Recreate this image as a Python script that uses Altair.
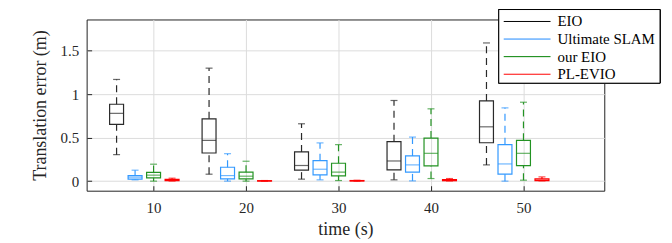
import altair as alt
import pandas as pd

times = [10, 20, 30, 40, 50]
series = ["EIO", "Ultimate SLAM", "our EIO", "PL-EVIO"]
colors = ["#2a2a2a", "#3399ff", "#239323", "#ff0000"]
legend_colors = ["#000000", "#1e88ff", "#008000", "#ff0000"]
offsets = [-4, -2, 0, 2]

low = {
    "EIO": [0.305, 0.08, 0.023, 0.015, 0.187],
    "Ultimate SLAM": [0.015, 0.0, 0.015, 0.003, 0.0],
    "our EIO": [0.0, 0.0, 0.007, 0.03, 0.011],
    "PL-EVIO": [0.001, 0.0, 0.0, 0.002, 0.003],
}
q1 = {
    "EIO": [0.653, 0.324, 0.126, 0.13, 0.442],
    "Ultimate SLAM": [0.023, 0.026, 0.072, 0.103, 0.08],
    "our EIO": [0.038, 0.026, 0.061, 0.175, 0.179],
    "PL-EVIO": [0.005, 0.001, 0.002, 0.005, 0.005],
}
median = {
    "EIO": [0.78, 0.47, 0.18, 0.232, 0.625],
    "Ultimate SLAM": [0.046, 0.064, 0.137, 0.187, 0.198],
    "our EIO": [0.069, 0.057, 0.103, 0.32, 0.32],
    "PL-EVIO": [0.012, 0.003, 0.004, 0.01, 0.013],
}
q3 = {
    "EIO": [0.885, 0.717, 0.336, 0.454, 0.923],
    "Ultimate SLAM": [0.064, 0.16, 0.236, 0.29, 0.42],
    "our EIO": [0.10, 0.103, 0.206, 0.496, 0.47],
    "PL-EVIO": [0.02, 0.005, 0.007, 0.018, 0.026],
}
high = {
    "EIO": [1.17, 1.30, 0.66, 0.928, 1.59],
    "Ultimate SLAM": [0.126, 0.316, 0.44, 0.507, 0.843],
    "our EIO": [0.195, 0.229, 0.42, 0.832, 0.908],
    "PL-EVIO": [0.034, 0.007, 0.01, 0.03, 0.049],
}

rows = []
for s, off in zip(series, offsets):
    for i, t in enumerate(times):
        rows.append({
            "series": s, "time": t, "pos": t + off,
            "low": low[s][i], "q1": q1[s][i], "median": median[s][i],
            "q3": q3[s][i], "high": high[s][i],
        })
df = pd.DataFrame(rows)
legend_df = pd.DataFrame({"series": series})

FONT = "Liberation Serif"

x = alt.X("pos:Q", scale=alt.Scale(domain=[3.3, 58.2], nice=False, zero=False),
          axis=alt.Axis(values=times, title="time (s)", grid=True, offset=-5,
                        tickSize=5, labelPadding=10, domain=False,
                        titlePadding=5))
yscale = alt.Scale(domain=[-0.11, 1.86], nice=False, zero=False)
yaxis = alt.Axis(values=[0, 0.5, 1, 1.5], title="Translation error (m)", grid=True,
                 offset=-5, tickSize=5, labelPadding=8, domain=False,
                 labelExpr="'' + datum.value", titlePadding=11)
cscale = alt.Scale(domain=series, range=colors)
color = alt.Color("series:N", scale=cscale, legend=None)

base = alt.Chart(df)

box = base.mark_bar(filled=False, size=14, strokeWidth=1.2).encode(
    x=x, y=alt.Y("q1:Q", scale=yscale, axis=yaxis), y2="q3:Q", color=color)
med = base.mark_tick(orient="horizontal", size=14, thickness=1.2).encode(
    x="pos:Q", y="median:Q", color=color)
w_up = base.mark_rule(strokeDash=[7, 5], strokeWidth=1.2).encode(
    x="pos:Q", y="q3:Q", y2="high:Q", color=color)
w_lo = base.mark_rule(strokeDash=[7, 5], strokeWidth=1.2).encode(
    x="pos:Q", y="low:Q", y2="q1:Q", color=color)
cap_hi = base.mark_tick(orient="horizontal", size=7, thickness=1.2).encode(
    x="pos:Q", y="high:Q", color=color)
cap_lo = base.mark_tick(orient="horizontal", size=7, thickness=1.2).encode(
    x="pos:Q", y="low:Q", color=color)

plot = alt.layer(w_up, w_lo, box, med, cap_hi, cap_lo)

# manual legend
ly = alt.Y("series:N", scale=alt.Scale(type="point", domain=series, range=[2, 55], padding=0),
           axis=None)
lcolor = alt.Color("series:N", scale=alt.Scale(domain=series, range=legend_colors), legend=None)
lbase = alt.Chart(legend_df)
frame = lbase.mark_rect(fill="white", stroke="black", strokeWidth=1).encode(
    x=alt.value(414), x2=alt.value(576), y=alt.value(-10), y2=alt.value(64))
lline = lbase.mark_rule(strokeWidth=1).encode(
    x=alt.value(419), x2=alt.value(466), y=ly, color=lcolor)
ltext = lbase.mark_text(align="left", baseline="middle", font=FONT, fontSize=15,
                        color="black").encode(
    x=alt.value(473), y=ly, text="series:N")
legend = alt.layer(frame, lline, ltext)

chart = alt.layer(plot, legend).resolve_scale(y="independent", color="independent").properties(
    width=520, height=172,
    autosize=alt.AutoSizeParams(type="none"),
    padding={"left": 79, "top": 11, "right": 60, "bottom": 52},
).configure_view(stroke="#222222", strokeWidth=1).configure_axis(
    labelFont=FONT, labelFontSize=15, labelColor="#262626",
    titleFont=FONT, titleFontSize=18, titleFontWeight="normal", titleColor="#262626",
    gridColor="#dcdcdc", tickColor="#262626",
)

chart.save("out.html", embed_options={"renderer": "svg", "actions": False})
